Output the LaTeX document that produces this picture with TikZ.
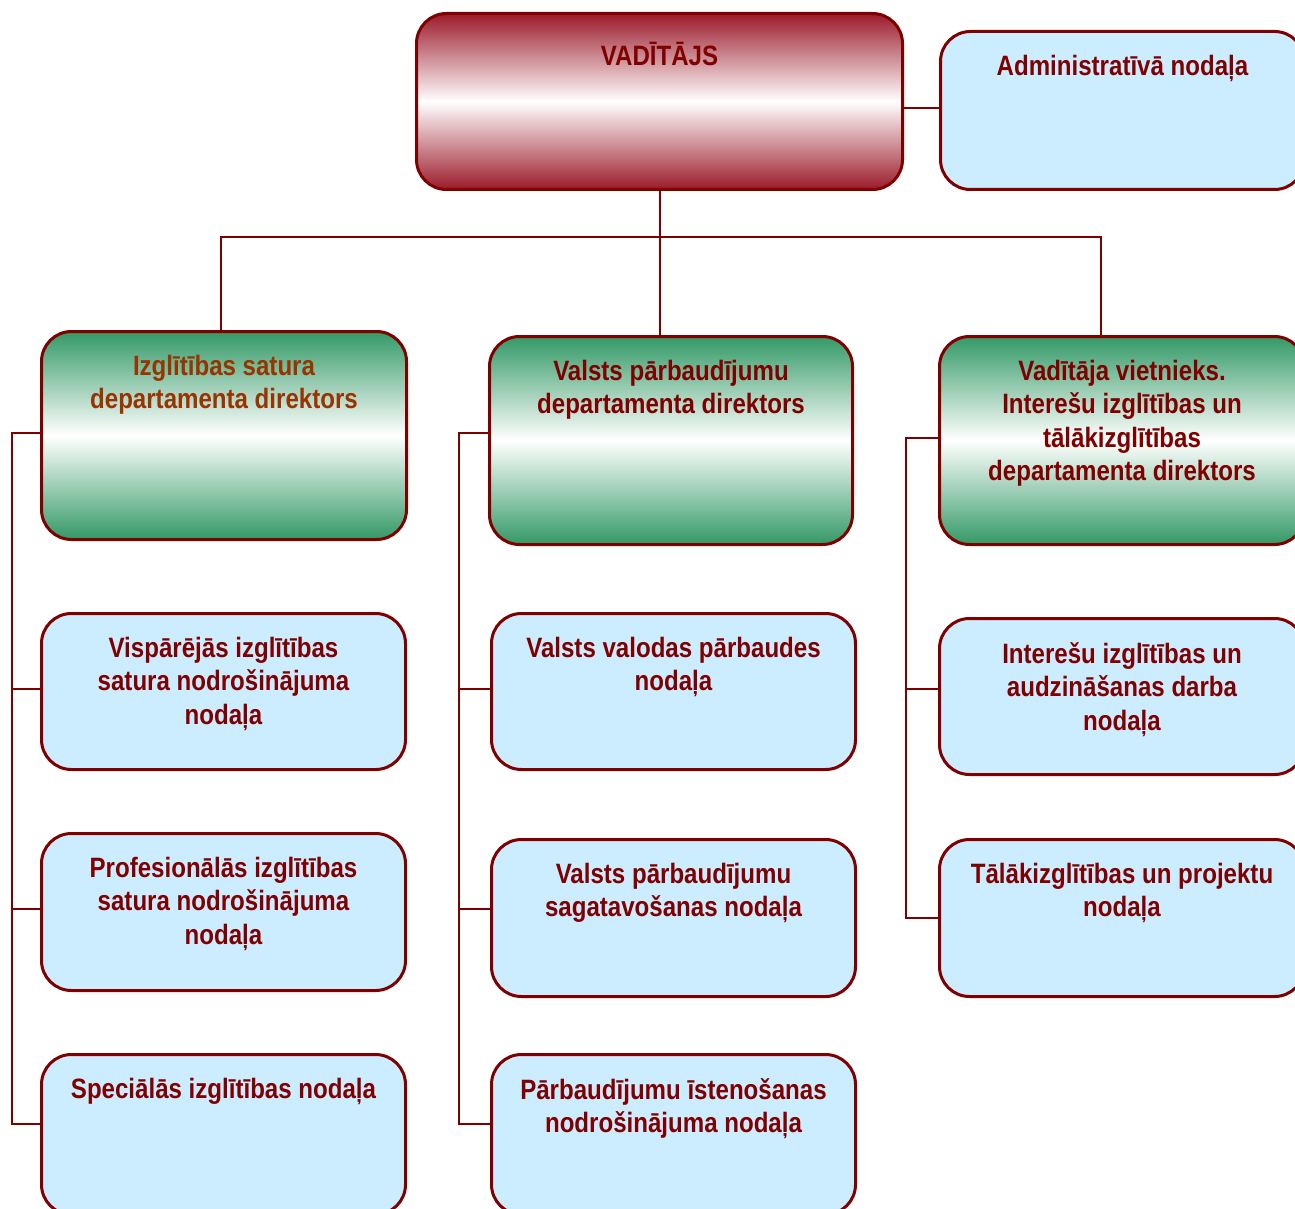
\documentclass[tikz,border=0pt]{standalone}
\usepackage{fontspec}
\setmainfont{Liberation Sans}[FakeStretch=0.86]
\usetikzlibrary{positioning}
\definecolor{maroon}{HTML}{800000}
\definecolor{rust}{HTML}{993300}
\definecolor{sky}{HTML}{CCECFF}
\definecolor{leaf}{HTML}{339966}
\definecolor{wine}{HTML}{9B1B2B}
\tikzstyle{box} = [rectangle, rounded corners=30pt, draw=maroon, line width=3pt,
inner sep=0pt, anchor=north west]
\tikzstyle{unit} = [box, fill=sky]
\tikzstyle{dept} = [box, top color=leaf, bottom color=leaf, middle color=white]
\tikzstyle{head} = [box, top color=wine, bottom color=wine, middle color=white]
\tikzstyle{caption} = [anchor=north, inner sep=0pt, align=center, text=maroon,
font=\fontsize{28}{33.5}\selectfont\bfseries, yshift=-25pt]
\tikzstyle{link} = [draw=maroon, line width=2pt]
\newcommand{\branch}[3][0pt]{ %
  % Connect every box in #3 to the bus line #2.
  \foreach \x in {#3} { %
    \draw[link] ([yshift=#1]\x.west) -- ([yshift=#1]\x.west -| #2) ;%
  } ;
}

\begin{document}
\begin{tikzpicture}[x=1pt,y=-1pt]
                \path[use as bounding box, clip] (0,0) rectangle (1295,1209);

                \node[head, minimum width=486pt, minimum height=176pt,
                  label={[caption, yshift=-5pt]north:VADĪTĀJS}] (boss) at (415,12) {} ; %
                \node[unit, minimum width=364pt, minimum height=158pt,
                  label={[caption]north:Administratīvā nodaļa}] (admin) at (939,30) {} ; %

                \node[dept, minimum width=365pt, minimum height=208pt,
                  label={[caption, text=rust]north:Izglītības satura\\departamenta direktors}] (lgreen) at (40,330) {} ; %
                \node[dept, minimum width=363pt, minimum height=208pt,
                  label={[caption]north:Valsts pārbaudījumu\\departamenta direktors}] (mgreen) at (488,335) {} ; %
                \node[dept, minimum width=365pt, minimum height=208pt,
                  label={[caption]north:Vadītāja vietnieks.\\Interešu izglītības un\\tālākizglītības\\departamenta direktors}] (rgreen) at (938,335) {} ; %

                \node[unit, minimum width=364pt, minimum height=156pt,
                  label={[caption]north:Vispārējās izglītības\\satura nodrošinājuma\\nodaļa}] (ls1) at (40,612) {} ; %
                \node[unit, minimum width=364pt, minimum height=157pt,
                  label={[caption]north:Profesionālās izglītības\\satura nodrošinājuma\\nodaļa}] (ls2) at (40,832) {} ; %
                \node[unit, minimum width=364pt, minimum height=160pt,
                  label={[caption]north:Speciālās izglītības nodaļa}] (ls3) at (40,1053) {} ; %

                \node[unit, minimum width=364pt, minimum height=156pt,
                  label={[caption]north:Valsts valodas pārbaudes\\nodaļa}] (ms1) at (490,612) {} ; %
                \node[unit, minimum width=364pt, minimum height=157pt,
                  label={[caption]north:Valsts pārbaudījumu\\sagatavošanas nodaļa}] (ms2) at (490,838) {} ; %
                \node[unit, minimum width=364pt, minimum height=160pt,
                  label={[caption]north:Pārbaudījumu īstenošanas\\nodrošinājuma nodaļa}] (ms3) at (490,1053) {} ; %

                \node[unit, minimum width=365pt, minimum height=156pt,
                  label={[caption]north:Interešu izglītības un\\audzināšanas darba\\nodaļa}] (rs1) at (938,617) {} ; %
                \node[unit, minimum width=365pt, minimum height=157pt,
                  label={[caption]north:Tālākizglītības un projektu\\nodaļa}] (rs2) at (938,838) {} ; %

                \coordinate (bar) at (659,237) ;
                \coordinate (lbus) at (12,0) ;
                \coordinate (mbus) at (459,0) ;
                \coordinate (rbus) at (906,0) ;

                \draw[link] (boss.south) -- (boss.south |- mgreen.north) ;
                \draw[link] ([xshift=-3.5pt]lgreen.north) |- (bar) -| ([xshift=-21.5pt]rgreen.north) ;
                \draw[link] ([yshift=2pt]admin.west) -- ([yshift=2pt]admin.west -| boss.east) ;

                \draw[link] ([yshift=3pt]lgreen.west) -- ([yshift=3pt]lgreen.west -| lbus) |- ([yshift=11pt]ls3.west) ;
                \branch[3pt]{lbus}{ls1,ls2}
                \draw[link] ([yshift=8pt]mgreen.west) -- ([yshift=8pt]mgreen.west -| mbus) |- ([yshift=11pt]ms3.west) ;
                \branch[3pt]{mbus}{ms1}
                \branch[9pt]{mbus}{ms2}
                \draw[link] ([yshift=3pt]rgreen.west) -- ([yshift=3pt]rgreen.west -| rbus) |- (rs2.west) ;
                \branch[8pt]{rbus}{rs1}
\end{tikzpicture}
\end{document}
